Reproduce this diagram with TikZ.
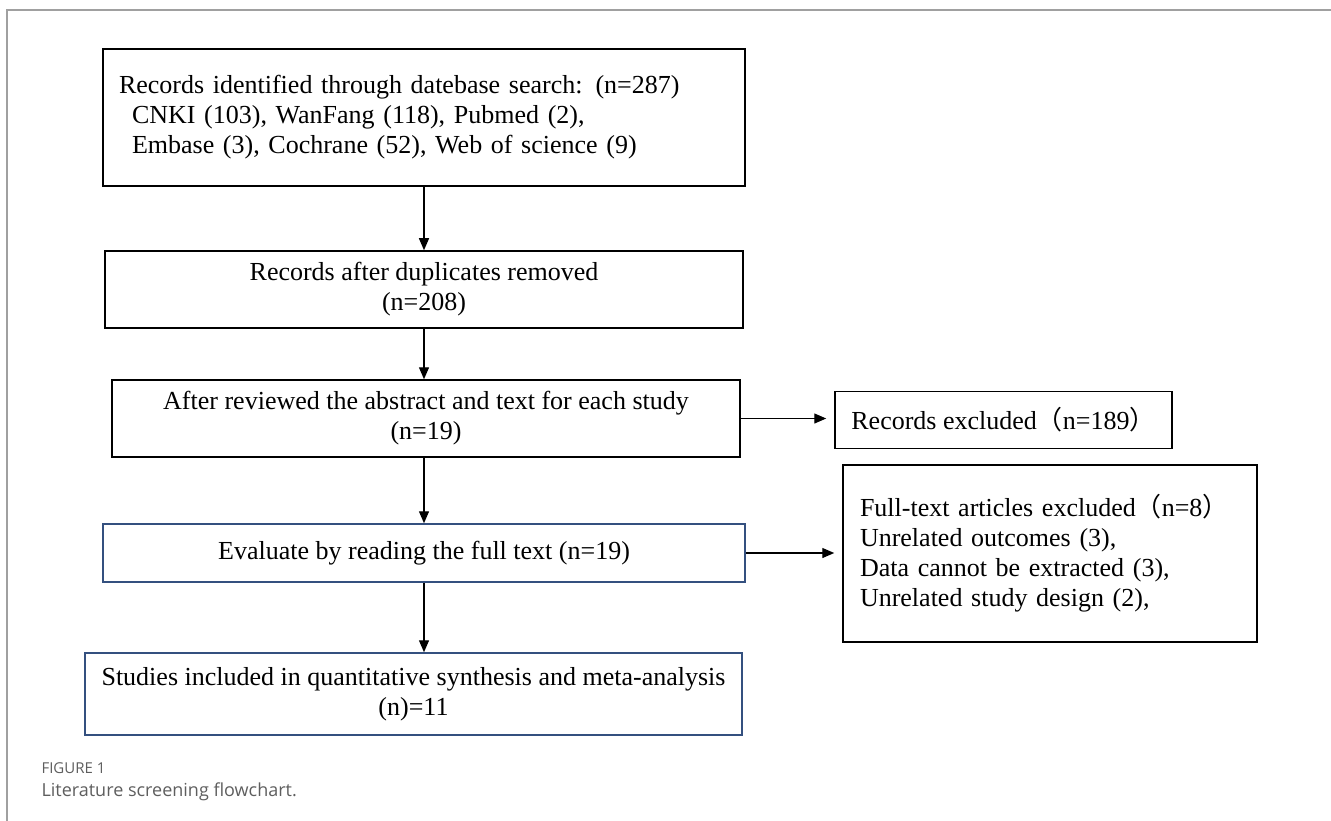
\documentclass[tikz,border=0pt]{standalone}
\usepackage{fontspec}
\setmainfont{Liberation Serif}
\newfontfamily\capfont{Open Sans}
\newfontfamily\cjk{Noto Sans CJK SC}
\usetikzlibrary{arrows.meta}
\definecolor{boxblue}{HTML}{34507F}
\definecolor{framegray}{HTML}{A0A0A0}
\definecolor{capgray}{HTML}{5E5E5E}
\newcommand{\lpar}{{\cjk （}}
\newcommand{\rpar}{{\cjk ）}}

\begin{document}
\begin{tikzpicture}[x=1pt,y=-1pt]
\tikzstyle{box}=[rectangle,draw,line width=1.5pt,inner sep=0pt,font=\fontsize{26}{30}\selectfont,align=center]
\tikzstyle{bluebox}=[box,draw=boxblue]
\tikzstyle{flow}=[-{Triangle[length=12pt,width=10pt]},line width=1.3pt]
\useasboundingbox (0,0) rectangle (1331,821);
\draw[framegray,line width=1.5pt] (1331,10) -- (7,10) -- (7,821);
% main column
\node at(424,117.5)(ident)[box,minimum width=642pt,minimum height=137pt,text width=610pt,align=left]
	{Records identified through datebase search: (n=287)\\
	\hspace*{13pt}CNKI (103), WanFang (118), Pubmed (2),\\
	\hspace*{13pt}Embase (3), Cochrane (52), Web of science (9)};
\node at(424,289.5)(dedup)[box,minimum width=638pt,minimum height=77pt]
	{Records after duplicates removed\\(n=208)};
\node at(426,418.5)(abstr)[box,minimum width=628pt,minimum height=77pt]
	{After reviewed the abstract and text for each study\\(n=19)};
\node at(424,553)(fulltxt)[bluebox,minimum width=642pt,minimum height=58pt]
	{Evaluate by reading the full text (n=19)};
\node at(413.5,694)(incl)[bluebox,minimum width=657pt,minimum height=82pt]
	{Studies included in quantitative synthesis and meta-analysis\\(n)=11};
% excluded
\node at(1003.5,420)(excl)[box,minimum width=337pt,minimum height=57pt]
	{Records excluded\lpar n=189\rpar};
\node at(1050,553.5)(exclft)[box,minimum width=414pt,minimum height=177pt,text width=380pt,align=left]
	{Full-text articles excluded\lpar n=8\rpar\\
	Unrelated outcomes (3),\\
	Data cannot be extracted (3),\\
	Unrelated study design (2),};
\draw[flow] (ident.south) -- (ident.south |- dedup.north);
\draw[flow] (dedup.south) -- (dedup.south |- abstr.north);
\draw[flow] (dedup.south |- abstr.south) -- (dedup.south |- fulltxt.north);
\draw[flow] (fulltxt.south) -- (fulltxt.south |- incl.north);
\draw[flow,shorten >=8pt] (abstr.east) -- (abstr.east -| excl.west);
\draw[flow,shorten >=8pt] (fulltxt.east) -- (fulltxt.east -| exclft.west);
% caption
\node at(38,768)(fig)[anchor=west,text=capgray,font=\capfont\fontsize{15}{18}\selectfont]{FIGURE 1};
\node at(38,792)(cap)[anchor=west,text=capgray,font=\capfont\fontsize{18}{22}\selectfont]{Literature screening flowchart.};
\end{tikzpicture}
\end{document}
